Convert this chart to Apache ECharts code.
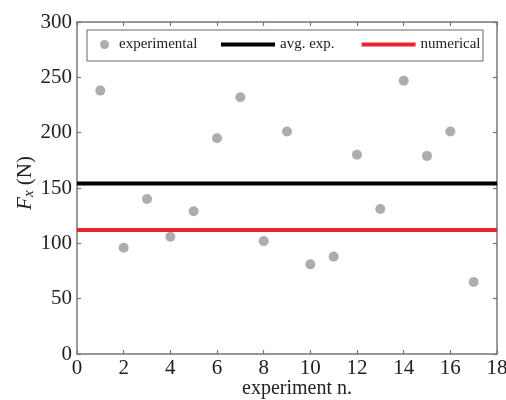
<!DOCTYPE html>
<html><head><meta charset="utf-8">
<script src="https://cdn.jsdelivr.net/npm/echarts@6/dist/echarts.min.js"></script>
<style>html,body{margin:0;padding:0;background:#fff}#c{width:506px;height:400px}</style>
</head><body><div id="c"></div>
<script>
const experimentN = [1,2,3,4,5,6,7,8,9,10,11,12,13,14,15,16,17];
const experimentalFx = [238,96,140,106,129,195,232,102,201,81,88,180,131,247,179,201,65];
const avgExp = 154;
const numerical = 112;
const xTicks = {min:0, max:18, interval:2};
const yTicks = {min:0, max:300, interval:50};

const chart = echarts.init(document.getElementById('c'));
const serif = '"Liberation Serif", "DejaVu Serif", serif';
const axisCol = '#777';
const baseAxis = {
  axisLine:{show:true, onZero:false, lineStyle:{color:axisCol, width:1.5}},
  axisTick:{show:true, inside:true, length:4, lineStyle:{color:axisCol, width:1.2}},
  splitLine:{show:false},
  axisLabel:{fontFamily:serif, fontSize:21, color:'#222', hideOverlap:false}
};
chart.setOption({
  animation:false,
  grid:{left:77, right:9, top:22, bottom:46, outerBoundsMode:'none', containLabel:false},
  xAxis:[
    Object.assign({}, baseAxis, {type:'value', position:'bottom', min:xTicks.min, max:xTicks.max, interval:xTicks.interval,
      name:'experiment n.', nameLocation:'middle', nameGap:25, nameMoveOverlap:false,
      nameTextStyle:{fontFamily:serif, fontSize:20, color:'#222', padding:[0,0,0,20]},
      axisLabel:Object.assign({}, baseAxis.axisLabel, {margin:4})}),
    Object.assign({}, baseAxis, {type:'value', position:'top', min:xTicks.min, max:xTicks.max, interval:xTicks.interval,
      axisLabel:{show:false}})
  ],
  yAxis:[
    Object.assign({}, baseAxis, {type:'value', position:'left', min:yTicks.min, max:yTicks.max, interval:yTicks.interval,
      name:'{i|F}{s|x}{n| (N)}', nameLocation:'middle', nameGap:40, nameRotate:90, nameMoveOverlap:false,
      nameTextStyle:{padding:[0,0,0,10], rich:{
        i:{fontFamily:serif, fontSize:21, fontStyle:'italic', color:'#222'},
        s:{fontFamily:serif, fontSize:15, fontStyle:'italic', color:'#222', padding:[9,0,0,0]},
        n:{fontFamily:serif, fontSize:21, color:'#222'}
      }},
      axisLabel:Object.assign({}, baseAxis.axisLabel, {margin:5})}),
    Object.assign({}, baseAxis, {type:'value', position:'right', min:yTicks.min, max:yTicks.max, interval:yTicks.interval,
      axisLabel:{show:false}})
  ],
  legend:[
    {data:[{name:'experimental', icon:'circle'}], left:100, top:37, padding:0, itemWidth:9, itemHeight:9, itemGap:4,
      textStyle:{fontFamily:serif, fontSize:15, color:'#222', padding:[0,0,0,5]}},
    {data:[{name:'avg. exp.', icon:'rect'},{name:'numerical', icon:'rect'}], left:221, top:37, padding:0, width:300, orient:'horizontal',
      itemWidth:54, itemHeight:4, itemGap:27,
      textStyle:{fontFamily:serif, fontSize:15, color:'#222'}}
  ],
  graphic:[{type:'rect', shape:{x:87, y:30, width:396, height:31}, style:{fill:'none', stroke:'#666', lineWidth:1}, z:100}],
  series:[
    {name:'experimental', type:'scatter', symbol:'circle', symbolSize:10, itemStyle:{color:'#999'},
      data: experimentN.map((n,i)=>[n, experimentalFx[i]]), z:5},
    {name:'avg. exp.', type:'line', symbol:'none', lineStyle:{color:'#000', width:4}, itemStyle:{color:'#000'},
      data:[[xTicks.min, avgExp],[xTicks.max, avgExp]], z:3},
    {name:'numerical', type:'line', symbol:'none', lineStyle:{color:'#e8252a', width:4}, itemStyle:{color:'#e8252a'},
      data:[[xTicks.min, numerical],[xTicks.max, numerical]], z:3}
  ]
});
</script></body></html>
